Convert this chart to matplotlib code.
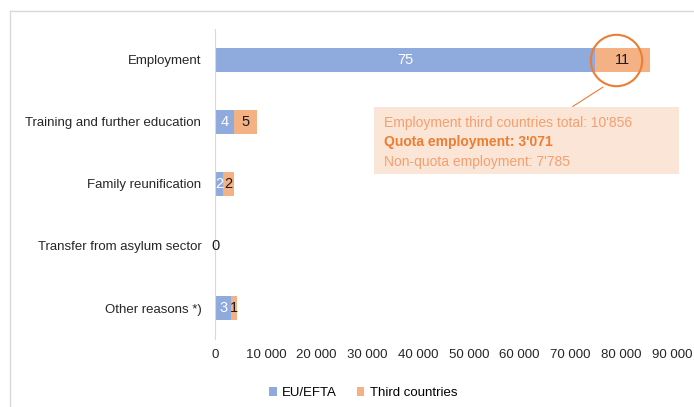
import matplotlib.pyplot as plt
from matplotlib.patches import Rectangle

plt.rcParams['font.family'] = ['Liberation Sans', 'DejaVu Sans']

# === Data ===
categories = ["Employment", "Training and further education", "Family reunification",
              "Transfer from asylum sector", "Other reasons *)"]
eu_efta = [74800, 3700, 1600, 0, 3200]
third = [10856, 4600, 2100, 60, 1200]
xticks = [0, 10000, 20000, 30000, 40000, 50000, 60000, 70000, 80000, 90000]
xtick_labels = ["0", "10 000", "20 000", "30 000", "40 000", "50 000",
                "60 000", "70 000", "80 000", "90 000"]
note_lines = ["Employment third countries total: 10'856",
              "Quota employment: 3'071",
              "Non-quota employment: 7'785"]

blue = '#8FAADC'
orange = '#F4B183'
dark_orange = '#ED7D31'

fig = plt.figure(figsize=(6.94, 4.07), dpi=100)
ax = fig.add_axes([0.31, 0.167, 0.658, 0.762])

# figure frame (top/left border)
fig.add_artist(plt.Line2D([10 / 694, 1], [1 - 11 / 407, 1 - 11 / 407],
                          color='#D9D9D9', lw=1, transform=fig.transFigure))
fig.add_artist(plt.Line2D([10 / 694, 10 / 694], [0, 1 - 11 / 407],
                          color='#D9D9D9', lw=1, transform=fig.transFigure))

y = list(range(len(categories)))
h = 0.4
b1 = ax.barh(y, eu_efta, height=h, color=blue, label='EU/EFTA')
b2 = ax.barh(y, third, left=eu_efta, height=h, color=orange, label='Third countries')

# data labels in thousands
for i in y:
    if eu_efta[i] > 0:
        ax.text(eu_efta[i] / 2, i, f"{int(eu_efta[i] / 1000 + 0.5)}", ha='center',
                va='center', color='white', fontsize=10.5)
    ax.text(eu_efta[i] + third[i] / 2, i, f"{int(third[i] / 1000 + 0.5)}", ha='center',
            va='center', color='#1a1a1a', fontsize=10.5)

ax.set_xlim(0, 90000)
ax.set_ylim(4.5, -0.5)
ax.set_yticks(y)
ax.set_yticklabels(categories, fontsize=9.5, color='#262626')
ax.set_xticks(xticks)
ax.set_xticklabels(xtick_labels, fontsize=9.5, color='#262626')
ax.tick_params(length=0, pad=10)
ax.tick_params(axis='x', pad=7)
for s in ['top', 'right', 'bottom']:
    ax.spines[s].set_visible(False)
ax.spines['left'].set_color('#D9D9D9')

# highlight on third-country employment
ax.plot(eu_efta[0] + 4200, 0, marker='o', ms=37, mfc='none', mec=dark_orange,
        mew=1.5, clip_on=False, zorder=5)
ax.plot([76400, 70500], [0.44, 0.75], color=dark_orange, lw=0.8, clip_on=False)
ax.add_patch(Rectangle((31300, 0.76), 60200, 1.08, facecolor='#FBE5D6',
                       edgecolor='none', clip_on=False, zorder=1))
ax.text(33300, 1.02, note_lines[0], color='#F4A070', fontsize=10, va='center')
ax.text(33300, 1.33, note_lines[1], color=dark_orange, fontsize=10, va='center',
        fontweight='bold')
ax.text(33300, 1.64, note_lines[2], color='#F4A070', fontsize=10, va='center')

fig.legend(handles=[b1, b2], loc='center', bbox_to_anchor=(0.523, 1 - 393 / 407),
           ncol=2, frameon=False, fontsize=9.5, handlelength=0.6, handleheight=0.6,
           handletextpad=0.4, columnspacing=1.5)

fig.savefig('out.png', dpi=100)
